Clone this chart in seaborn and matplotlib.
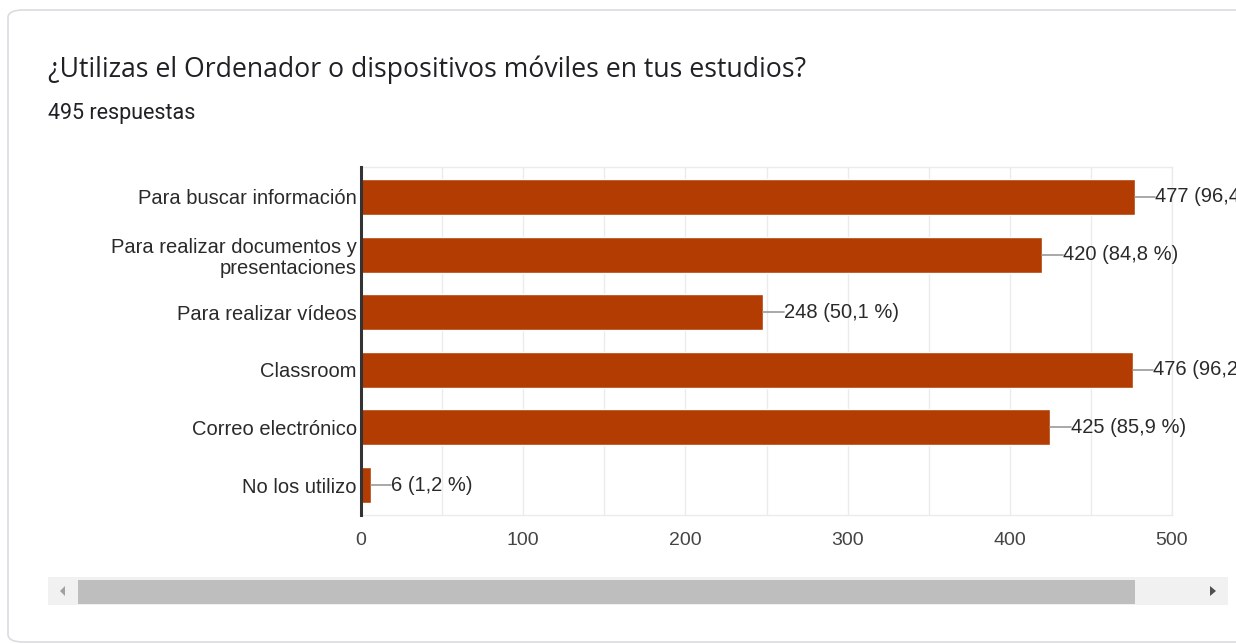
import matplotlib
matplotlib.use("Agg")
import matplotlib.pyplot as plt
import seaborn as sns
import pandas as pd
from matplotlib.patches import FancyBboxPatch, Rectangle, Polygon

# data
categorias = [
    "Para buscar información",
    "Para realizar documentos y\npresentaciones",
    "Para realizar vídeos",
    "Classroom",
    "Correo electrónico",
    "No los utilizo",
]
respuestas = [477, 420, 248, 476, 425, 6]
porcentajes = ["96,4", "84,8", "50,1", "96,2", "85,9", "1,2"]
total = 495

df = pd.DataFrame({"categoria": categorias, "n": respuestas})

sns.set_theme(style="white")
plt.rcParams["font.family"] = ["Liberation Sans", "DejaVu Sans"]

fig = plt.figure(figsize=(12.36, 6.44), dpi=100)

# card background
card = FancyBboxPatch((8 / 1236, 2 / 644), 1.2, 632 / 644,
                      boxstyle="round,pad=0,rounding_size=0.012",
                      transform=fig.transFigure, facecolor="white",
                      edgecolor="#dadce0", linewidth=1.2, zorder=-10)
fig.patches.append(card)

fig.text(48 / 1236, 1 - 70 / 644,
         "¿Utilizas el Ordenador o dispositivos móviles en tus estudios?",
         fontsize=19.2, color="#202124", family=["Open Sans", "DejaVu Sans"],
         va="center", ha="left")
fig.text(48 / 1236, 1 - 113 / 644, f"{total} respuestas",
         fontsize=15.5, color="#202124", family=["Roboto", "DejaVu Sans"],
         va="center", ha="left")

ax = fig.add_axes([361 / 1236, 1 - 515 / 644, 811 / 1236, 348 / 644])
ax.patch.set_alpha(0)
sns.barplot(data=df, x="n", y="categoria", color="#b33c03", saturation=1,
            width=0.625, ax=ax, zorder=3)

ax.set_xlim(0, 500)
ax.set_ylim(len(categorias) - 0.48, -0.52)
ax.set_xticks(range(0, 501, 100))
ax.set_xticks(range(50, 500, 100), minor=True)
ax.grid(True, axis="x", which="both", color="#ebebeb", linewidth=1, zorder=0)
ax.set_axisbelow(True)
ax.set_xlabel("")
ax.set_ylabel("")
ax.tick_params(axis="both", which="both", length=0)
ax.tick_params(axis="y", pad=3, colors="#2a2a2a", labelsize=14.5)
ax.tick_params(axis="x", pad=12, colors="#444444", labelsize=14)
for lbl in ax.get_yticklabels():
    lbl.set_multialignment("right")
    lbl.set_linespacing(1.15)

for s in ["top", "right", "bottom"]:
    ax.spines[s].set_color("#ebebeb")
    ax.spines[s].set_linewidth(1)
ax.spines["left"].set_color("#333333")
ax.spines["left"].set_linewidth(2.2)
ax.spines["left"].set_zorder(5)

for i, (v, p) in enumerate(zip(respuestas, porcentajes)):
    ax.plot([v, v + 12.5], [i, i], color="#999999", linewidth=1.2, zorder=4,
            clip_on=False)
    ax.text(v + 12.5, i, f"{v} ({p} %)", va="center", ha="left",
            fontsize=14.5, color="#2a2a2a", clip_on=False)

# scrollbar under the chart
fig.patches.append(Rectangle((48 / 1236, 1 - 605 / 644), 1180 / 1236, 28 / 644,
                             transform=fig.transFigure, facecolor="#f1f1f1",
                             edgecolor="none", zorder=1))
fig.patches.append(Rectangle((78 / 1236, 1 - 604 / 644), 1057 / 1236, 24 / 644,
                             transform=fig.transFigure, facecolor="#bebebe",
                             edgecolor="none", zorder=2))
fig.patches.append(Polygon([(60 / 1236, 1 - 591 / 644), (65 / 1236, 1 - 586 / 644),
                            (65 / 1236, 1 - 596 / 644)], closed=True,
                           transform=fig.transFigure, facecolor="#a0a0a0",
                           edgecolor="none", zorder=2))
fig.patches.append(Polygon([(1216 / 1236, 1 - 591 / 644), (1210 / 1236, 1 - 586 / 644),
                            (1210 / 1236, 1 - 596 / 644)], closed=True,
                           transform=fig.transFigure, facecolor="#505050",
                           edgecolor="none", zorder=2))

fig.savefig("out.png", dpi=100)
